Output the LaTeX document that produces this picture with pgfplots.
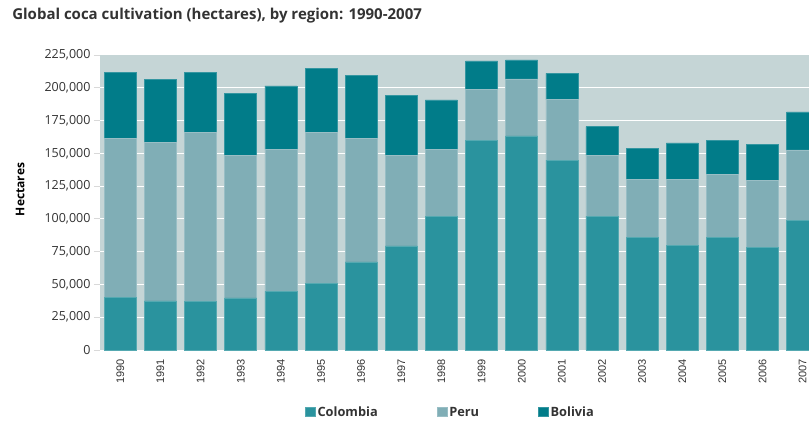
\documentclass[border=0pt]{standalone}
\usepackage{pgfplots}
\pgfplotsset{compat=1.18}
\usepackage{fontspec}
\setmainfont{Open Sans}
\newfontfamily\arialfont{Liberation Sans}
\definecolor{colC}{HTML}{2A939E}
\definecolor{colP}{HTML}{80AEB6}
\definecolor{colB}{HTML}{017C89}
\definecolor{bgc}{HTML}{C5D5D6}
\definecolor{txt}{HTML}{333333}
\pgfplotstableread{
x year colombia peru bolivia
0 1990 40100 121300 50300
1 1991 37500 120800 47900
2 1992 37100 129100 45300
3 1993 39700 108800 47200
4 1994 44700 108600 48100
5 1995 50900 115300 48600
6 1996 67200 94400 48100
7 1997 79400 68800 45800
8 1998 101800 51000 38000
9 1999 160100 38700 21800
10 2000 163300 43400 14600
11 2001 144800 46200 19900
12 2002 102000 46700 21600
13 2003 86000 44200 23600
14 2004 80000 50300 27700
15 2005 86000 48200 25400
16 2006 78000 51400 27500
17 2007 99000 53700 28900
}\datatable
\begin{document}
\begin{tikzpicture}
\useasboundingbox (-100bp,-71bp) rectangle (709bp,350bp);
\begin{axis}[
  at={(0,0)}, anchor=south west,
  scale only axis, width=709bp, height=295bp,
  ybar stacked, bar width=32bp,
  xmin=-0.506, xmax=17.157,
  ymin=0, ymax=225000,
  ytick={0,25000,...,225000},
  xtick=data,
  xticklabels={1990,1991,1992,1993,1994,1995,1996,1997,1998,1999,2000,2001,2002,2003,2004,2005,2006,2007},
  xticklabel style={rotate=90, anchor=east, font=\arialfont\fontsize{11bp}{13bp}\selectfont, text=txt},
  x tick style={draw=none},
  y tick style={draw=gray!30, line width=0.8bp},
  tick align=outside, major tick length=6bp,
  xtick pos=bottom, ytick pos=left,
  yticklabel style={font=\fontsize{12.5bp}{14bp}\selectfont, text=txt},
  /pgf/number format/.cd, fixed, 1000 sep={,}, assume math mode=true,
  /pgfplots/.cd,
  scaled y ticks=false,
  axis line style={draw=none},
  axis background/.style={fill=bgc},
  ymajorgrids, grid style={white, line width=1bp},
  ylabel={\textbf{Hectares}},
  ylabel style={font=\fontsize{12bp}{14bp}\selectfont, text=black, at={(axis description cs:-0.1128,0.544)}, anchor=center},
  title={\textbf{Global coca cultivation (hectares), by region: 1990-2007}},
  title style={font=\fontsize{15bp}{17bp}\selectfont, text=txt, at={(axis description cs:-0.124,1.1017)}, anchor=base west, inner sep=0pt},
  legend columns=3,
  legend style={draw=none, fill=none, at={(axis description cs:0.289,-0.210)}, anchor=west, inner sep=0pt,
     font=\bfseries\fontsize{12.8bp}{14bp}\selectfont, text=txt,
     nodes={text height=9.5bp, text depth=0bp},
     /tikz/every even column/.append style={column sep=57bp},
     /tikz/every odd column/.append style={column sep=0bp}},
  legend cell align=left,
  legend image code/.code={\fill[#1] (0bp,-4.5bp) rectangle (10bp,4.5bp);},
]
\addplot[fill=colC, draw=colC!80!white, line width=0.5bp] table[x=x, y=colombia] {\datatable};
\addplot[fill=colP, draw=colP!80!white, line width=0.5bp] table[x=x, y=peru] {\datatable};
\addplot[fill=colB, draw=colB!80!white, line width=0.5bp] table[x=x, y=bolivia] {\datatable};
\legend{Colombia, Peru, Bolivia}
\end{axis}
\end{tikzpicture}
\end{document}
